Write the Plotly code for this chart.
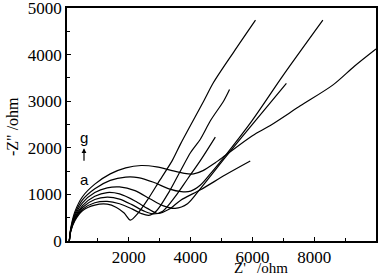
import plotly.graph_objects as go

# Nyquist data (Z' , -Z''), ohm
a_x = [75, 120, 250, 500, 900, 1300, 1600, 1850, 2050, 2300, 2600, 3000, 3410, 3680, 4430, 4740, 5400, 6100]
a_y = [0, 200, 430, 650, 770, 790, 720, 600, 450, 600, 876, 1300, 1730, 2090, 3010, 3400, 4060, 4740]

b_x = [75, 120, 250, 500, 900, 1300, 1700, 2100, 2400, 2650, 2900, 3300, 3700, 4000, 4320, 4645, 5075, 5260]
b_y = [0, 210, 450, 680, 820, 850, 800, 690, 590, 550, 650, 1050, 1540, 1900, 2190, 2585, 3010, 3250]

c_x = [75, 120, 250, 500, 900, 1300, 1700, 2100, 2500, 2800, 3100, 3500, 3900, 4320, 4800]
c_y = [0, 220, 470, 720, 890, 940, 900, 780, 640, 580, 640, 950, 1330, 1730, 2230]

d_x = [75, 120, 250, 500, 900, 1300, 1700, 2200, 2600, 2950, 3300, 3680, 4320, 5130, 5930]
d_y = [0, 230, 500, 760, 960, 1040, 1010, 860, 700, 590, 680, 876, 1100, 1420, 1715]

e_x = [75, 120, 250, 500, 900, 1300, 1700, 2200, 2700, 3100, 3500, 3900, 4320, 5130, 6100, 7100]
e_y = [0, 240, 530, 820, 1040, 1140, 1160, 1080, 900, 760, 700, 800, 1126, 1800, 2585, 3380]

f_x = [75, 120, 250, 500, 900, 1400, 1900, 2300, 2800, 3300, 3700, 4000, 4320, 4700, 5130, 5990, 7000, 8280]
f_y = [0, 250, 570, 880, 1120, 1300, 1370, 1360, 1260, 1120, 1060, 1070, 1200, 1490, 1840, 2585, 3560, 4740]

g_x = [75, 120, 250, 500, 900, 1400, 1900, 2400, 2900, 3400, 3800, 4100, 4400, 4800, 5130, 6000, 6580, 7550, 8610, 9300, 10000]
g_y = [0, 270, 620, 950, 1220, 1440, 1570, 1620, 1590, 1510, 1450, 1440, 1510, 1680, 1840, 2260, 2480, 2900, 3350, 3750, 4120]

series = [(a_x, a_y), (b_x, b_y), (c_x, c_y), (d_x, d_y), (e_x, e_y), (f_x, f_y), (g_x, g_y)]

x_ticks = [2000, 4000, 6000, 8000]
y_ticks = [0, 1000, 2000, 3000, 4000, 5000]
x_range = [0, 10000]
y_range = [0, 5000]

fig = go.Figure()
for xs, ys in series:
    fig.add_trace(go.Scatter(x=xs, y=ys, mode="lines",
                             line=dict(color="black", width=1.2, shape="spline", smoothing=0.8),
                             showlegend=False, hoverinfo="skip"))

serif = "Liberation Serif, Times New Roman, serif"
sans = "Liberation Sans, Arial, sans-serif"
axis_common = dict(showline=True, linecolor="black", linewidth=1.5, mirror=True,
                   ticks="inside", ticklen=4, tickcolor="black", showgrid=False,
                   zeroline=False, ticklabeloverflow="allow",
                   tickfont=dict(family=serif, size=17, color="black"))

fig.update_layout(
    xaxis=dict(range=x_range, tickvals=x_ticks, ticktext=[str(v) for v in x_ticks],
               minor=dict(tickvals=[1000, 3000, 5000, 7000, 9000], ticks="inside", ticklen=3,
                          tickcolor="black"),
               **axis_common),
    yaxis=dict(range=y_range, tickvals=y_ticks, ticktext=[str(v) for v in y_ticks],
               minor=dict(tickvals=[500, 1500, 2500, 3500, 4500], ticks="inside", ticklen=3,
                          tickcolor="black"),
               **axis_common),
)

fig.add_annotation(x=550, y=2220, text="g", showarrow=False,
                   font=dict(family=sans, size=15, color="black"))
fig.add_annotation(x=550, y=1320, text="a", showarrow=False,
                   font=dict(family=sans, size=15, color="black"))
fig.add_annotation(x=550, y=1990, ax=550, ay=1690, xref="x", yref="y", axref="x", ayref="y",
                   text="", showarrow=True, arrowhead=2, arrowsize=0.8, arrowwidth=1.2,
                   arrowcolor="black")

W, H = 378, 276
L, R, T, B = 67, 2, 8, 35
pw, ph = W - L - R, H - T - B

fig.add_annotation(xref="paper", yref="paper", x=(261 - L) / pw, y=-(268 - 241) / ph,
                   xanchor="center", yanchor="middle", text="Z'&nbsp;&nbsp;&nbsp;/ohm",
                   showarrow=False, font=dict(family=serif, size=15, color="black"))
fig.add_annotation(xref="paper", yref="paper", x=-(L - 12) / pw, y=(241 - 127) / ph,
                   xanchor="center", yanchor="middle", text='-Z" /ohm', textangle=-90,
                   showarrow=False, font=dict(family=serif, size=16, color="black"))

fig.update_layout(width=W, height=H, margin=dict(l=L, r=R, t=T, b=B, autoexpand=False),
                  plot_bgcolor="white", paper_bgcolor="white")

# page styling: no body margin, plus a border box outlining the plotting area
frame_js = (
    "document.body.style.margin='0';document.body.style.padding='0';"
    "var fr=document.createElement('div');"
    "fr.style.cssText='position:absolute;left:%dpx;top:%dpx;width:%dpx;height:%dpx;"
    "border:1.5px solid black;box-sizing:border-box;pointer-events:none;';"
    "document.body.appendChild(fr);" % (L - 1, T - 1, pw + 2, ph + 2)
)

fig.write_html("out.html", config={"displayModeBar": False}, post_script=frame_js)
